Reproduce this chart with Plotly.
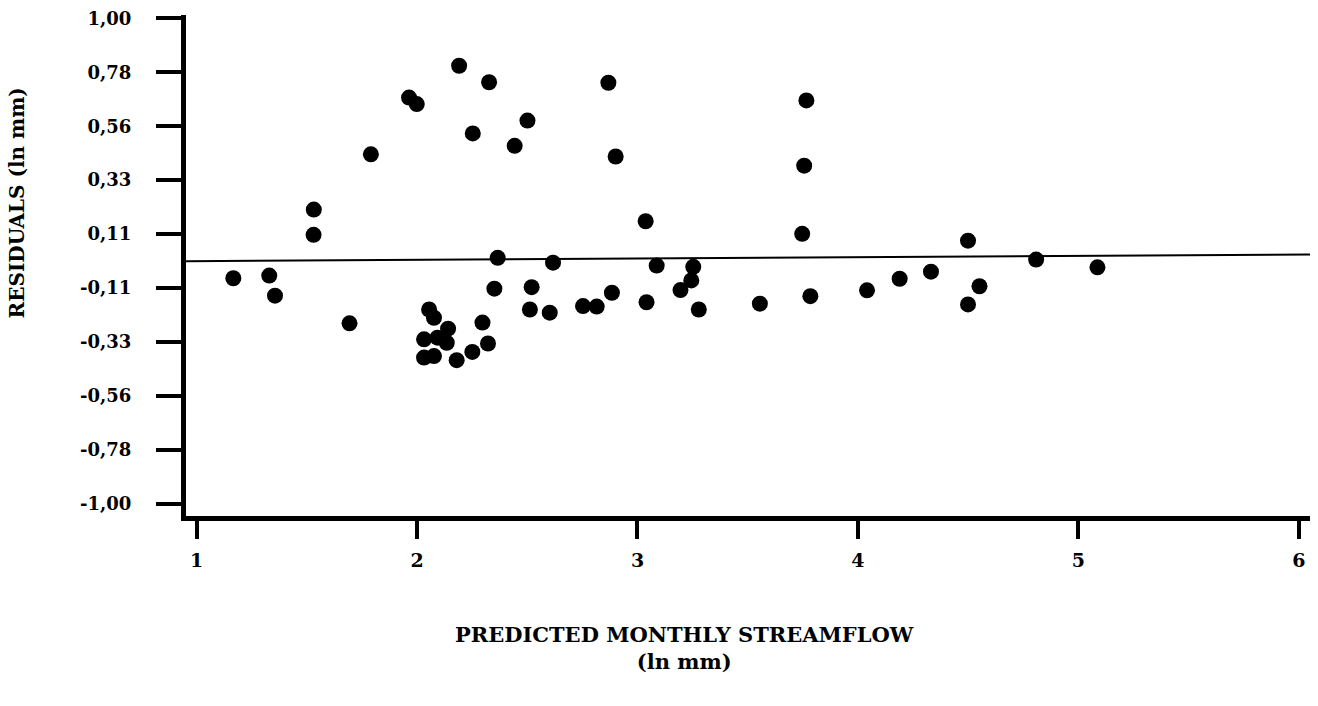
import plotly.graph_objects as go

# Data
predicted = [1.167, 1.330, 1.356, 1.532, 1.531, 1.694, 1.791, 1.964, 1.999, 2.191,
             2.253, 2.327, 2.443, 2.501, 2.868, 2.901, 2.366, 2.351, 2.520, 2.512,
             2.602, 2.617, 2.753, 2.815, 2.884, 3.037, 3.041, 3.087, 3.195, 3.244,
             3.253, 3.278, 3.555, 3.747, 3.756, 3.766, 3.784, 4.041, 4.189, 4.331,
             4.499, 4.499, 4.551, 4.808, 5.086, 2.055, 2.077, 2.141, 2.032, 2.093,
             2.135, 2.032, 2.077, 2.297, 2.322, 2.251, 2.180]
residuals = [-0.071, -0.060, -0.143, 0.212, 0.108, -0.257, 0.440, 0.674, 0.647, 0.805,
             0.526, 0.737, 0.475, 0.579, 0.735, 0.431, 0.013, -0.114, -0.108, -0.200,
             -0.213, -0.007, -0.186, -0.188, -0.131, 0.164, -0.170, -0.019, -0.120, -0.080,
             -0.024, -0.200, -0.176, 0.112, 0.393, 0.662, -0.145, -0.121, -0.073, -0.044,
             0.084, -0.179, -0.104, 0.006, -0.026, -0.200, -0.234, -0.279, -0.323, -0.316,
             -0.337, -0.398, -0.392, -0.254, -0.340, -0.375, -0.409]

zero_line_x = [0.952, 6.05]
zero_line_y = [-0.001, 0.027]

x_tickvals = [1, 2, 3, 4, 5, 6]
x_ticktext = ["1", "2", "3", "4", "5", "6"]
y_tickvals = [-1.0, -0.7778, -0.5556, -0.3333, -0.1111, 0.1111, 0.3333, 0.5556, 0.7778, 1.0]
y_ticktext = ["-1,00", "-0,78", "-0,56", "-0,33", "-0,11", "0,11", "0,33", "0,56", "0,78", "1,00"]

FONT = "DejaVu Serif"

fig = go.Figure()
fig.add_trace(go.Scatter(x=zero_line_x, y=zero_line_y, mode="lines",
                         line=dict(color="black", width=2), hoverinfo="skip",
                         showlegend=False))
fig.add_trace(go.Scatter(x=predicted, y=residuals, mode="markers",
                         marker=dict(color="black", size=16, line=dict(width=0)),
                         showlegend=False))

fig.update_layout(
    width=1318, height=706,
    margin=dict(l=186, r=8, t=15, b=190),
    paper_bgcolor="white", plot_bgcolor="white",
    showlegend=False,
    xaxis=dict(range=[0.9524, 6.05], showgrid=False, zeroline=False,
               showline=True, linecolor="black", linewidth=5,
               ticks="outside", ticklen=18, tickwidth=4, tickcolor="black",
               tickvals=x_tickvals, ticktext=x_ticktext,
               tickfont=dict(family=FONT, size=19, color="black", weight="bold"),
               ticklabelstandoff=5),
    yaxis=dict(range=[-1.0514, 1.0144], showgrid=False, zeroline=False,
               showline=True, linecolor="black", linewidth=5,
               ticks="outside", ticklen=25, tickwidth=4, tickcolor="black",
               tickvals=y_tickvals, ticktext=y_ticktext,
               tickfont=dict(family=FONT, size=18, color="black", weight="bold"),
               ticklabelstandoff=21),
    annotations=[
        dict(text="PREDICTED MONTHLY STREAMFLOW<br>(ln mm)", xref="paper", yref="paper",
             x=(684 - 186) / 1124, y=(516 - 648) / 500, xanchor="center", yanchor="middle",
             showarrow=False, align="center",
             font=dict(family=FONT, size=21, color="black", weight="bold")),
        dict(text="RESIDUALS (ln mm)", xref="paper", yref="paper",
             x=(17 - 186) / 1124, y=(516 - 204) / 500, xanchor="center", yanchor="middle",
             textangle=-90, showarrow=False,
             font=dict(family=FONT, size=20, color="black", weight="bold")),
    ],
)

fig.write_html("out.html")
